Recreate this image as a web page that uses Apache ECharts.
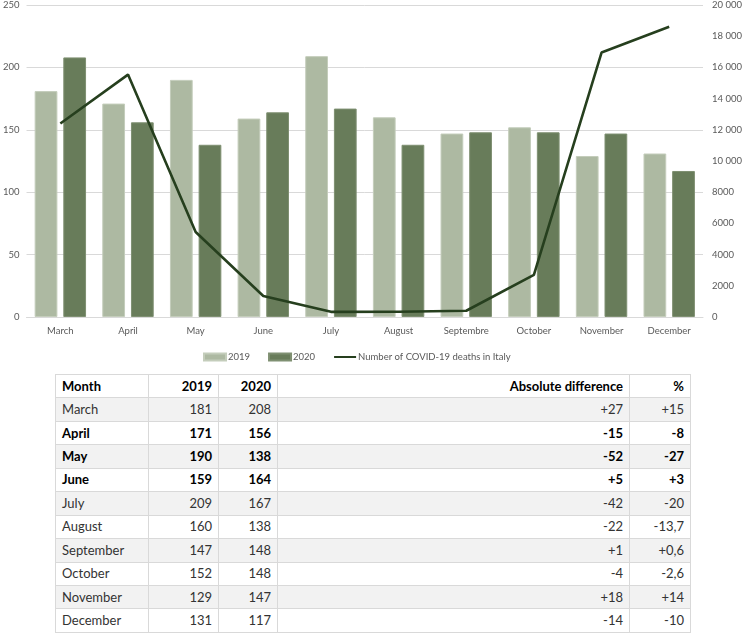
<!DOCTYPE html>
<html>
<head>
<meta charset="utf-8">
<script src="https://cdn.jsdelivr.net/npm/echarts@6/dist/echarts.min.js"></script>
<style>
  html, body { margin: 0; padding: 0; background: #fff; }
  #chart { position: absolute; left: 0; top: 0; width: 745px; height: 365px; }
  #tbl { position: absolute; left: 55px; top: 374px; border-collapse: collapse; font-family: Lato, "Open Sans", sans-serif; font-size: 13px; color: #333; }
  #tbl td { border: 1px solid #d9d9d9; height: 23.45px; padding: 0 6px; box-sizing: border-box; line-height: 1; }
  #tbl tr.alt td { background: #f2f2f2; }
  #tbl tr.b td { font-weight: bold; color: #000; }
  #tbl td.r { text-align: right; }
</style>
</head>
<body>
<div id="chart"></div>
<table id="tbl"></table>
<script>
// ---- data ----
const axisMonths = ["March","April","May","June","July","August","Septembre","October","November","December"];
const values2019 = [181,171,190,159,209,160,147,152,129,131];
const values2020 = [208,156,138,164,167,138,148,148,147,117];
const covidDeaths = [12400,15540,5450,1350,330,340,400,2700,16950,18600];

const tableHeader = ["Month","2019","2020","Absolute difference","%"];
const tableMonths = ["March","April","May","June","July","August","September","October","November","December"];
const tableAbsDiff = ["+27","-15","-52","+5","-42","-22","+1","-4","+18","-14"];
const tablePct = ["+15","-8","-27","+3","-20","-13,7","+0,6","-2,6","+14","-10"];
const boldMonths = ["April","May","June"];

// ---- chart ----
const chart = echarts.init(document.getElementById('chart'));
const labelFont = { color: '#595959', fontFamily: 'Lato, "Open Sans", sans-serif', fontSize: 9.5 };
chart.setOption({
  animation: false,
  grid: { left: 24, right: 37, top: 5, bottom: 48 },
  legend: {
    left: 198, top: 347, itemWidth: 22, itemHeight: 7, itemGap: 18,
    textStyle: { color: '#595959', fontFamily: 'Lato, "Open Sans", sans-serif', fontSize: 9.5, padding: [0,0,0,-3] },
    data: [
      { name: '2019', icon: 'rect' },
      { name: '2020', icon: 'rect' },
      { name: 'Number of COVID-19 deaths in Italy', itemStyle: { opacity: 0 } }
    ]
  },
  xAxis: {
    type: 'category', data: axisMonths,
    axisLine: { lineStyle: { color: '#d9d9d9' } },
    axisTick: { show: false },
    axisLabel: Object.assign({ margin: 9 }, labelFont)
  },
  yAxis: [
    { type: 'value', min: 0, max: 250, interval: 50,
      axisLabel: Object.assign({ margin: 7 }, labelFont),
      splitLine: { lineStyle: { color: '#d9d9d9' } },
      axisLine: { show: false }, axisTick: { show: false } },
    { type: 'value', min: 0, max: 20000, interval: 2000,
      position: 'right',
      axisLabel: Object.assign({ margin: 9,
        formatter: v => v >= 10000 ? String(v).replace(/(\d+)(\d{3})$/, '$1 $2') : String(v) }, labelFont),
      splitLine: { show: false },
      axisLine: { show: false }, axisTick: { show: false } }
  ],
  series: [
    { name: '2019', type: 'bar', data: values2019, barGap: '26%', barCategoryGap: '24%',
      itemStyle: { color: '#adb9a2', borderColor: '#c4cdbb', borderWidth: 1 } },
    { name: '2020', type: 'bar', data: values2020,
      itemStyle: { color: '#687c5a', borderColor: '#7f9072', borderWidth: 1 } },
    { name: 'Number of COVID-19 deaths in Italy', type: 'line', yAxisIndex: 1, data: covidDeaths,
      symbol: 'none', lineStyle: { color: '#263f1e', width: 2.6 }, itemStyle: { color: '#263f1e' } }
  ]
});

// ---- table ----
const colW = [93, 70, 59, 352, 61];
const tbl = document.getElementById('tbl');
function addRow(cells, cls) {
  const tr = document.createElement('tr');
  if (cls) tr.className = cls;
  cells.forEach((c, i) => {
    const td = document.createElement('td');
    td.textContent = c;
    td.style.width = colW[i] + 'px';
    if (i > 0) td.className = 'r';
    tr.appendChild(td);
  });
  tbl.appendChild(tr);
}
addRow(tableHeader, 'b');
tableMonths.forEach((m, i) => {
  const cls = [];
  if (i % 2 === 0) cls.push('alt');
  if (boldMonths.includes(m)) cls.push('b');
  addRow([m, values2019[i], values2020[i], tableAbsDiff[i], tablePct[i]], cls.join(' '));
});
</script>
</body>
</html>
